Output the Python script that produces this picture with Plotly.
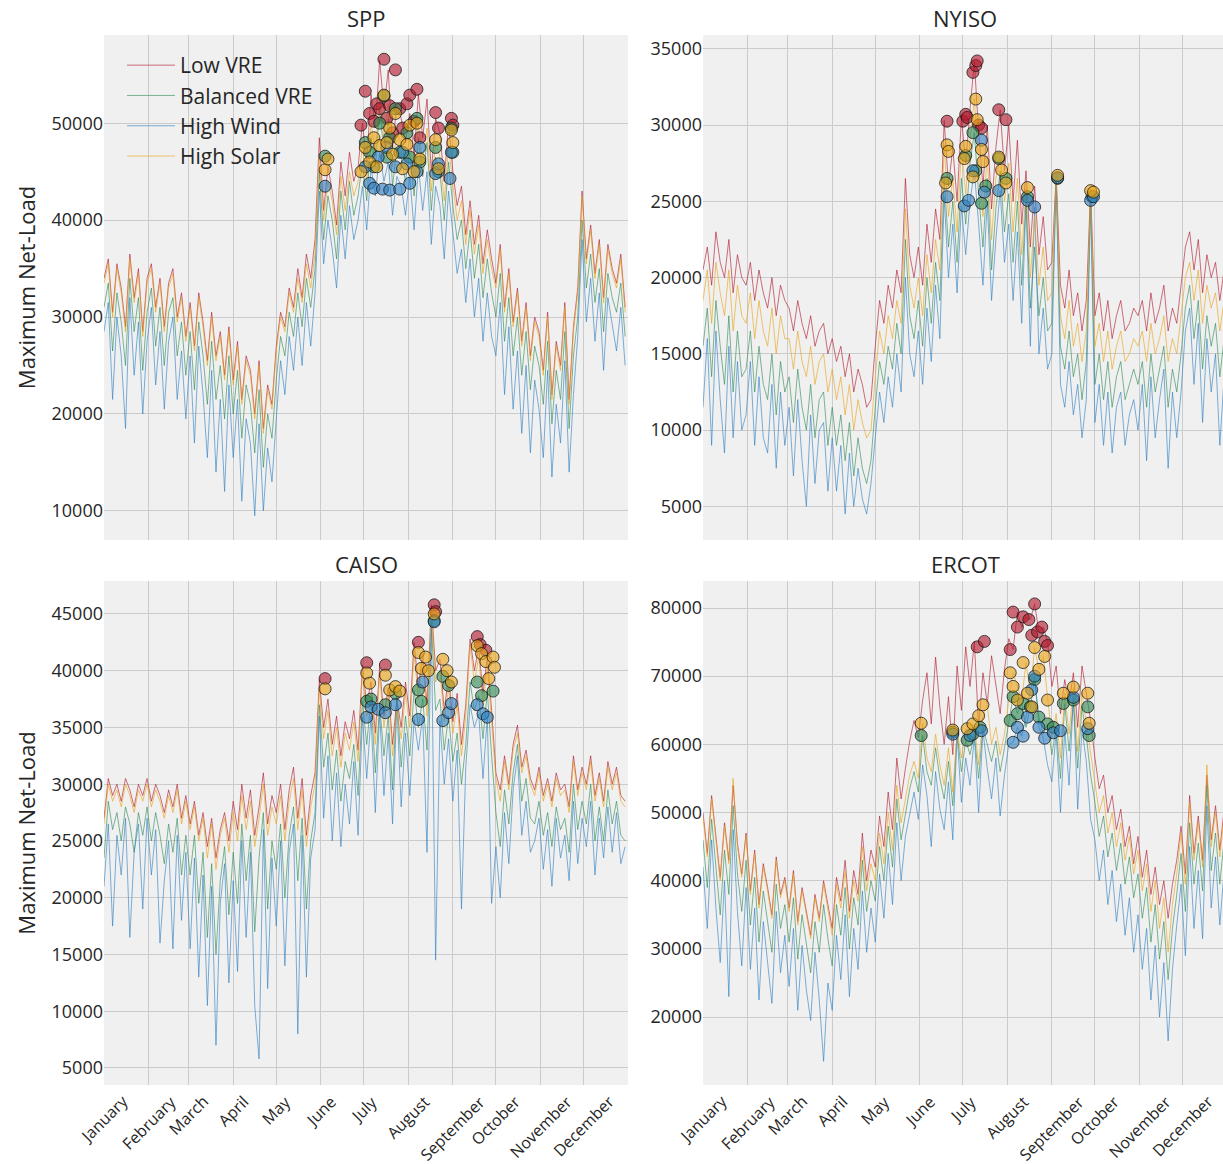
import plotly.graph_objects as go

MONTHS = ["January", "February", "March", "April", "May", "June", "July",
          "August", "September", "October", "November", "December"]
MONTH_START = [0, 31, 59, 90, 120, 151, 181, 212, 243, 273, 304, 334]
DAYS = list(range(0, 364, 3))  # sampled day-of-year positions (122)

SCENARIOS = ["Low VRE", "Balanced VRE", "High Wind", "High Solar"]
COLORS = ["#B2182B", "#2E8B57", "#2F7FC1", "#E8A317"]

# ---------------- SPP ----------------
spp_low = [
    34000, 36000, 30500, 35500, 33000, 29000, 36500, 32000, 35000, 28500, 34000,
    35500, 31000, 34000, 29000, 33500, 35000, 30000, 32500, 28000,
    31500, 27000, 32500, 29500, 25500, 30500, 26000, 28500, 24000, 29000,
    23500, 27500, 21500, 26000, 24500, 20000, 25500, 18500, 23000, 21000,
    27000, 30500, 29000, 33000, 31000, 35000, 32000, 36500, 34000, 38000,
    48500, 41000, 45500, 43000, 39500, 46000, 42500, 47000, 44000, 45500,
    50000, 46000, 53000, 49500, 56500, 51500, 55500, 47500, 52000, 50500, 48000,
    51000, 46500, 53000, 48500, 52500, 45000, 50500, 49000, 44000, 50000,
    45000, 41500, 43500, 38500, 42000, 37500, 40500, 35500, 39000, 36000,
    33500, 37500, 31000, 35000, 29500, 33000, 27500, 31500, 26000, 30000,
    28500, 24500, 30500, 22000, 27500, 25000, 31500, 21500, 29000, 33000,
    43000, 36000, 39500, 34500, 38000, 32000, 37500, 35000, 33500, 36500, 31000]
spp_bal = [
    31000, 33500, 26500, 32500, 29500, 25000, 34000, 28500, 32000, 24500, 30500,
    33000, 27000, 31000, 25000, 30500, 32000, 26000, 29500, 24000,
    28500, 22500, 29500, 26000, 21000, 27500, 21500, 25000, 19500, 26000,
    20000, 24500, 17500, 23000, 21000, 16000, 22500, 14500, 20000, 17500,
    23500, 28000, 26000, 30500, 28000, 32500, 29000, 34000, 31000, 35000,
    45000, 38000, 42500, 40000, 36000, 43000, 39000, 44000, 40500, 42500,
    46000, 42000, 48500, 45500, 51500, 47000, 50500, 43500, 47500, 46500, 44000,
    47000, 42500, 48500, 44500, 48000, 41000, 46500, 45000, 40000, 46000,
    41500, 38000, 40000, 35000, 39000, 34000, 37500, 32000, 36000, 32500,
    30000, 34500, 27500, 32000, 26000, 30000, 24000, 28500, 22500, 27000,
    25000, 21000, 27500, 19000, 24500, 21500, 28500, 18500, 26000, 30000,
    40000, 33000, 36500, 31500, 35000, 28500, 34500, 32000, 30500, 33500, 28000]
spp_wind = [
    28500, 31500, 21500, 30000, 26000, 18500, 32000, 24000, 29500, 20000, 27500,
    31000, 23000, 28500, 20500, 27500, 30000, 21500, 26500, 19500,
    26000, 17000, 27000, 22000, 15500, 24500, 14000, 21500, 12000, 23000,
    15500, 21500, 11000, 19500, 17000, 9500, 19000, 10000, 16500, 13000,
    19500, 25500, 22000, 28000, 24500, 30000, 25000, 31500, 27000, 32500,
    43000, 35500, 40000, 37000, 33000, 40500, 36000, 41500, 38000, 40000,
    43500, 39000, 45500, 42500, 47000, 44000, 46000, 40500, 44500, 43500, 40500,
    44500, 39000, 45500, 41000, 45000, 37500, 43500, 41500, 36000, 43000,
    38500, 34500, 37000, 31500, 36000, 30000, 34000, 27500, 32500, 28000,
    26000, 31500, 22000, 29000, 20500, 26500, 18000, 25000, 16000, 23500,
    20500, 15500, 24500, 13500, 21000, 17000, 25500, 14000, 22000, 28000,
    38000, 29500, 34000, 27500, 32500, 24500, 32000, 29000, 26500, 31000, 25000]
spp_solar = [
    33500, 35500, 30000, 35000, 32500, 28500, 36000, 31500, 34500, 28000, 33500,
    35000, 30500, 33500, 28500, 33000, 34500, 29500, 32000, 27500,
    31000, 26500, 32000, 29000, 25000, 30000, 25500, 28000, 23500, 28500,
    23000, 27000, 21000, 25500, 24000, 19500, 25000, 18000, 22500, 20500,
    26500, 30000, 28500, 32500, 30500, 34000, 31500, 35500, 33000, 36500,
    46500, 40000, 44000, 42000, 38500, 44500, 41000, 45000, 42500, 44000,
    47500, 44000, 50000, 47000, 52500, 48500, 52000, 45500, 49000, 48000, 45500,
    48500, 44500, 50000, 46000, 49500, 43000, 48000, 46500, 42000, 47500,
    43500, 40000, 42000, 37500, 41000, 36500, 39500, 34500, 38000, 35000,
    33000, 37000, 30500, 34500, 29000, 32500, 27000, 31000, 25500, 29500,
    28000, 24000, 30000, 21500, 27000, 24500, 31000, 21000, 28500, 32500,
    42500, 35500, 39000, 34000, 37500, 31500, 37000, 34500, 33000, 36000, 30500]

spp_low_pk_day = [179, 182, 185, 188, 190, 192, 195, 197, 199, 201, 203, 206, 208, 211, 213, 216, 218, 220, 231, 233, 242, 243]
spp_low_pk_val = [49800, 53300, 51000, 50200, 52000, 51500, 56600, 50500, 51800, 49000, 55500, 51500, 49500, 52000, 52900, 50200, 53500, 48500, 51100, 49500, 50500, 49800]
spp_bal_pk_day = [154, 182, 185, 188, 192, 195, 197, 199, 203, 206, 211, 213, 218, 220, 231, 233, 242, 243]
spp_bal_pk_val = [46600, 48000, 47000, 45500, 50000, 52800, 46500, 48500, 51500, 47000, 49000, 46500, 50500, 46000, 47500, 45000, 49500, 47000]
spp_wind_pk_day = [154, 182, 185, 188, 191, 194, 197, 199, 203, 206, 208, 211, 213, 218, 220, 231, 233, 241, 242]
spp_wind_pk_val = [43500, 45500, 43800, 43300, 46500, 43200, 47500, 43100, 45500, 43200, 47000, 45800, 43800, 45000, 47500, 44800, 45800, 44300, 47000]
spp_solar_pk_day = [154, 156, 179, 182, 185, 188, 190, 192, 195, 197, 199, 201, 203, 206, 208, 211, 213, 216, 218, 220, 231, 233, 242, 243]
spp_solar_pk_val = [45200, 46300, 45000, 47500, 46000, 48500, 45500, 47700, 52900, 48000, 49500, 46800, 51000, 48300, 45300, 47800, 49800, 45000, 50000, 46300, 48300, 45300, 49300, 48000]

# ---------------- NYISO ----------------
ny_low = [
    20500, 22000, 19500, 23000, 21000, 20000, 22500, 19000, 21500, 20000, 19500,
    21000, 18500, 20500, 19000, 18000, 20000, 17500, 19500, 18500,
    18000, 16500, 18500, 17000, 16000, 17500, 15500, 16500, 17000, 15000,
    16000, 14500, 15500, 13500, 15000, 12500, 14000, 13000, 11500, 12000,
    15500, 18500, 17000, 19500, 18000, 20500, 19000, 26500, 21500, 20000,
    22000, 19500, 23500, 21000, 24500, 22500, 30300, 26000, 28500, 25000,
    30500, 27500, 31000, 34200, 29500, 26000, 30000, 24500, 28500, 31000, 27000,
    30000, 25000, 29000, 23500, 27000, 22000, 26000, 21500, 24000, 20500,
    21000, 26700, 19500, 18000, 20500, 17500, 19000, 16500, 18500, 25800,
    17500, 19000, 16500, 18500, 16000, 17500, 18500, 16500, 17000, 18000,
    17500, 18500, 16500, 19000, 17000, 18000, 19500, 16500, 18000, 17000,
    19500, 22000, 23000, 20500, 22500, 19000, 21500, 20000, 21000, 18500, 20500]
ny_bal = [
    15500, 18000, 13500, 18500, 15500, 13000, 17500, 12500, 16500, 13500, 14000,
    16500, 12500, 15500, 13000, 12000, 15000, 11000, 14500, 12500,
    13500, 10500, 14000, 11500, 10000, 13000, 9500, 12000, 12500, 9000,
    11500, 9000, 11000, 8000, 10500, 7000, 9500, 7500, 6500, 8000,
    11500, 14500, 13000, 15500, 14000, 17000, 15000, 22500, 17500, 16000,
    18500, 15500, 20000, 17000, 21000, 18500, 26500, 22000, 25000, 21000,
    26500, 23500, 27500, 29500, 25500, 22000, 26500, 20500, 24500, 27000, 23000,
    25500, 21000, 25000, 19500, 25300, 18000, 22000, 17500, 20000, 16500,
    17000, 26500, 15500, 14000, 16500, 13500, 15000, 12000, 14500, 25300,
    13000, 15000, 12000, 14500, 11500, 13500, 14500, 12000, 13000, 14000,
    13000, 14500, 11500, 15000, 12500, 14000, 15500, 11500, 14000, 12500,
    15000, 18000, 19500, 16000, 18500, 14000, 17500, 15500, 17000, 13500, 16000]
ny_wind = [
    11500, 16000, 9000, 16500, 12000, 8500, 15500, 9500, 14500, 10000, 11000,
    14500, 9000, 13500, 9500, 8500, 13000, 7500, 12500, 9000,
    11500, 7000, 12000, 8000, 5000, 11000, 6500, 10000, 10500, 6000,
    9500, 6000, 9000, 4500, 8500, 5000, 7500, 5500, 4500, 6500,
    9500, 12500, 10500, 13500, 11500, 15000, 12500, 20000, 15000, 13500,
    16500, 13000, 18000, 14500, 19500, 16000, 25300, 20000, 23500, 19000,
    24700, 21500, 25000, 27000, 23500, 19500, 25000, 18500, 22500, 25700, 21000,
    23500, 18500, 23000, 17000, 25000, 15500, 24600, 15000, 18000, 14000,
    15000, 26500, 13000, 11500, 14500, 11000, 13000, 9500, 12000, 25000,
    10500, 13000, 9000, 12500, 8500, 11500, 12500, 9000, 11000, 12000,
    10000, 13000, 8000, 13500, 9500, 12000, 14000, 7500, 12500, 9500,
    12500, 16500, 18000, 13000, 17000, 10500, 16000, 12500, 15000, 9000, 13500]
ny_solar = [
    18500, 20500, 17000, 21000, 19000, 17500, 20500, 16500, 19500, 17500, 17000,
    19000, 16000, 18500, 16500, 15500, 18000, 15000, 17500, 16000,
    16000, 14000, 16500, 14500, 13500, 15500, 13000, 14500, 15000, 12500,
    14000, 12000, 13500, 11000, 13000, 10000, 12000, 10500, 9500, 10000,
    13500, 16500, 15000, 17500, 16000, 18500, 17000, 24500, 19500, 18000,
    20000, 17500, 21500, 19000, 22500, 20500, 28700, 24000, 26500, 23000,
    28500, 25500, 29000, 31700, 27500, 24000, 28000, 22500, 26500, 27900, 25000,
    27500, 23000, 26500, 21500, 25900, 20000, 24000, 19500, 22000, 18500,
    19000, 26700, 17500, 16000, 18500, 15500, 17000, 14500, 16500, 25700,
    15500, 17000, 14500, 16500, 14000, 15500, 16500, 14500, 15000, 16000,
    15500, 16500, 14500, 17000, 15000, 16000, 17500, 14500, 16000, 15000,
    17500, 20000, 21000, 18500, 20500, 17000, 19500, 18000, 19000, 16500, 18500]

ny_low_pk_day = [170, 181, 183, 184, 188, 190, 191, 192, 194, 206, 211]
ny_low_pk_val = [30250, 30250, 30700, 30500, 33450, 33900, 34200, 30000, 29800, 31000, 30350]
ny_bal_pk_day = [170, 183, 188, 190, 194, 197, 206, 211, 226, 247, 271]
ny_bal_pk_val = [26500, 28000, 29500, 27000, 24870, 26000, 27800, 26500, 25300, 26500, 25300]
ny_wind_pk_day = [170, 182, 185, 188, 194, 196, 206, 226, 231, 247, 270, 272]
ny_wind_pk_val = [25300, 24700, 25060, 27000, 29000, 25600, 25700, 25060, 24630, 26550, 25060, 25300]
ny_solar_pk_day = [169, 170, 171, 182, 183, 188, 190, 191, 194, 195, 206, 208, 211, 226, 247, 270, 272]
ny_solar_pk_val = [26200, 28700, 28270, 27800, 28600, 26600, 31700, 30350, 28400, 27600, 27900, 27050, 26200, 25900, 26700, 25700, 25600]

# ---------------- CAISO ----------------
ca_low = [
    27000, 30500, 29000, 30000, 28500, 30500, 29500, 28000, 30000, 29000, 30500,
    28500, 30000, 29000, 27500, 29500, 28000, 30000, 27000, 29000,
    26500, 28500, 25500, 27500, 24500, 27000, 23500, 26000, 27500, 25000,
    28500, 26000, 30000, 27000, 29500, 25500, 28000, 31000, 26500, 29000,
    27500, 30000, 26000, 29500, 31500, 27000, 30500, 25500, 29000, 31000,
    39200, 35000, 37500, 33500, 36000, 32500, 35500, 34000, 36500, 33000,
    40500, 37000, 39000, 34500, 40300, 36000, 38500, 33500, 37500, 35000, 39000,
    36000, 42500, 38500, 41500, 37000, 45800, 40000, 41000, 36500, 39500,
    35500, 38000, 33500, 37000, 42800, 40000, 42000, 38000, 41200, 36500,
    31000, 29500, 32500, 30000, 33500, 35200, 31500, 33000, 30500, 29500,
    31500, 29000, 30500, 28500, 31000, 29500, 30000, 28000, 32500, 29500,
    31500, 30000, 32500, 29000, 31000, 28500, 32000, 30000, 31500, 29000, 28500]
ca_bal = [
    23500, 28500, 26000, 27500, 25000, 28000, 26500, 24000, 27500, 25500, 28000,
    25000, 27500, 25500, 23000, 26500, 24000, 27000, 22000, 25500,
    22000, 25500, 19500, 24000, 16500, 23000, 15000, 21500, 24500, 18500,
    24000, 19500, 26500, 21500, 25500, 17000, 23500, 27500, 19000, 25000,
    22500, 26500, 20000, 25500, 28000, 21500, 27000, 19000, 25000, 27500,
    37000, 31500, 34500, 29500, 33000, 28500, 32000, 30500, 33500, 29000,
    37300, 33500, 37500, 31000, 37000, 32500, 36000, 29500, 38000, 31500, 36000,
    32500, 38300, 35000, 37500, 33000, 44400, 36500, 37500, 33000, 36000,
    32000, 34500, 30000, 33500, 39000, 36500, 37800, 34000, 38200, 32500,
    27500, 24500, 29500, 26500, 31000, 33500, 28500, 30500, 27000, 26500,
    28500, 25500, 27500, 24500, 28000, 26000, 27000, 24000, 30000, 26000,
    28500, 26500, 30000, 25000, 28000, 25000, 29500, 26500, 28500, 25500, 25000]
ca_wind = [
    21000, 26500, 17500, 25500, 22000, 27000, 16500, 24000, 26500, 19000, 27000,
    22000, 26000, 16000, 21500, 25000, 15500, 25500, 18000, 24000,
    15500, 23500, 13000, 22000, 10500, 21000, 7000, 19500, 23000, 12500,
    21500, 13500, 25000, 16500, 24000, 10500, 5800, 26000, 12000, 23500,
    17500, 25000, 14000, 24000, 26500, 8000, 25500, 13000, 23500, 26000,
    36000, 27000, 32500, 25000, 31000, 24500, 30000, 26500, 32000, 25500,
    35900, 30500, 36000, 27500, 36300, 29000, 34500, 26500, 37000, 28000, 34500,
    29000, 35700, 33000, 36000, 24000, 44300, 14500, 35600, 30000, 34000,
    28500, 33000, 19000, 31500, 37000, 35000, 36200, 30500, 36000, 19500,
    24500, 20000, 27500, 23000, 29500, 32500, 25500, 28500, 24000, 25000,
    27000, 22500, 26000, 21000, 27000, 23500, 25500, 21500, 28500, 23000,
    27000, 24500, 28500, 22000, 27000, 23500, 28000, 24000, 27500, 23000, 24500]
ca_solar = [
    26500, 30000, 28500, 29500, 28000, 30000, 29000, 27500, 29500, 28500, 30000,
    28000, 29500, 28500, 27000, 29000, 27500, 29500, 26500, 28500,
    26000, 28000, 25000, 27000, 23500, 26500, 22500, 25500, 27000, 24000,
    27500, 25000, 29000, 26000, 28500, 24500, 27000, 30000, 25500, 28000,
    26500, 29000, 25000, 28500, 30500, 26000, 29500, 24500, 28000, 30000,
    38400, 34000, 36500, 32500, 35000, 31500, 34500, 33000, 35500, 32000,
    39800, 36000, 38000, 33500, 39600, 35000, 38200, 32500, 36500, 34000, 38000,
    35000, 41600, 37500, 41000, 36000, 45000, 39000, 40000, 35500, 38500,
    34500, 37000, 32500, 36000, 42200, 39000, 41200, 37000, 40300, 35500,
    30500, 28500, 32000, 29500, 33000, 34500, 31000, 32500, 30000, 29000,
    31000, 28500, 30000, 28000, 30500, 29000, 29500, 27500, 32000, 29000,
    31000, 29500, 32000, 28500, 30500, 28000, 31500, 29500, 31000, 28500, 28000]

ca_low_pk_day = [154, 183, 196, 219, 230, 231, 260, 262, 266]
ca_low_pk_val = [39300, 40700, 40500, 42500, 45800, 45200, 43000, 42300, 41800]
ca_bal_pk_day = [183, 186, 196, 203, 219, 221, 230, 236, 240, 260, 263, 271]
ca_bal_pk_val = [37300, 37500, 37000, 38000, 38300, 37300, 44400, 39500, 38700, 39000, 37800, 38200]
ca_wind_pk_day = [183, 186, 191, 196, 203, 219, 222, 230, 236, 240, 242, 260, 264, 267]
ca_wind_pk_val = [35900, 36800, 36600, 36300, 37000, 35700, 39000, 44300, 35600, 36300, 37100, 37000, 36200, 35900]
ca_solar_pk_day = [154, 183, 185, 196, 199, 203, 206, 219, 221, 224, 226, 230, 236, 239, 242, 260, 263, 266, 268, 271, 272]
ca_solar_pk_val = [38400, 39800, 38900, 39600, 38300, 38600, 38200, 41600, 40200, 41200, 40000, 45000, 41000, 40000, 39000, 42200, 41500, 40800, 39300, 41200, 40300]

# ---------------- ERCOT ----------------
er_low = [
    50000, 44000, 52500, 46000, 40500, 48500, 43000, 54000, 45500, 41000, 47000,
    38500, 44500, 36500, 42500, 39000, 35000, 43500, 38000, 40500,
    36000, 41500, 34000, 39000, 35500, 32000, 38000, 34500, 40000, 36500,
    33000, 40500, 37000, 43000, 35500, 41500, 38000, 47000, 40000, 44500,
    42000, 49500, 45000, 53000, 47500, 58000, 52000, 56500, 60500, 63500,
    61000, 66500, 70500, 63000, 72800, 65500, 60000, 67000, 58500, 71500,
    65000, 74300, 68500, 75100, 62500, 70500, 66000, 73000, 69000, 64500, 71000,
    75500, 73900, 79400, 77200, 78700, 78300, 80600, 76500, 77200, 75100,
    68500, 71500, 64500, 69500, 66000, 70500, 62500, 71500, 67500, 63500,
    58000, 53500, 55500, 50000, 52500, 47500, 50500, 45000, 48000, 42500,
    46500, 40500, 44500, 38000, 42000, 36500, 40000, 34500, 39500, 43000,
    48000, 41000, 52500, 44000, 49500, 43000, 55500, 46000, 51000, 44500, 50500]
er_bal = [
    46000, 39000, 49000, 41500, 35000, 44500, 38000, 51000, 41000, 35500, 43000,
    33500, 40500, 31000, 38500, 34000, 29500, 39500, 33000, 36500,
    31000, 37500, 28500, 35000, 30500, 26500, 34000, 29500, 36500, 31500,
    27500, 36500, 32000, 39000, 30000, 37500, 33500, 43000, 35500, 40000,
    37000, 45000, 40000, 48000, 42000, 52000, 46000, 50000, 53500, 56000,
    53000, 61300, 56000, 54000, 59500, 55000, 52000, 57500, 51000, 61800,
    56000, 60600, 58500, 61500, 55000, 62500, 60000, 57500, 60500, 56000, 59500,
    63500, 67000, 64500, 66000, 62500, 65500, 69500, 64000, 61500, 63000,
    58500, 62500, 55000, 66000, 59000, 66500, 56500, 65500, 61300, 55500,
    51500, 46500, 49500, 43500, 47000, 41500, 45500, 39500, 43500, 37500,
    41000, 34500, 39000, 31000, 36500, 28500, 34000, 25500, 33000, 38000,
    44000, 35500, 48500, 39500, 45500, 38500, 54000, 41500, 47000, 39500, 46000]
er_wind = [
    42000, 33000, 46000, 36000, 28000, 40000, 23000, 47500, 35500, 27500, 39000,
    27000, 36000, 22500, 34000, 28000, 22000, 35500, 26500, 32000,
    24500, 33000, 21000, 30500, 24000, 19500, 29500, 22500, 13500, 25000,
    21000, 32000, 25500, 35000, 23000, 33000, 27000, 38500, 29500, 36000,
    31000, 41000, 34500, 44000, 36500, 48500, 40000, 46500, 50000, 53000,
    49000, 57000, 52500, 45000, 56000, 50500, 47500, 54500, 46000, 61500,
    51500, 58000, 54000, 61300, 50000, 62000, 56500, 52000, 58000, 49500, 55500,
    60000, 60300, 62500, 61200, 64000, 68000, 70000, 62500, 60900, 57000,
    54500, 61700, 50000, 62000, 54000, 66900, 50500, 62300, 57500, 49000,
    46000, 40000, 44500, 36500, 41500, 34000, 39500, 32000, 37500, 29500,
    35000, 27000, 33000, 22500, 30500, 20000, 28000, 16500, 27000, 33500,
    39500, 29000, 45000, 33000, 41500, 31500, 51000, 36000, 43500, 33500, 41500]
er_solar = [
    49500, 43500, 52000, 45500, 40000, 48000, 42500, 55000, 45000, 40500, 46500,
    38000, 44000, 36000, 42000, 38500, 34500, 43000, 37500, 40000,
    35500, 41000, 33500, 38500, 35000, 31500, 37500, 34000, 39500, 36000,
    32000, 39500, 36000, 41500, 34500, 40000, 37000, 45000, 38500, 42500,
    40000, 47000, 42500, 50000, 44500, 54000, 48500, 52000, 55500, 57500,
    55000, 63100, 58000, 56000, 61500, 57000, 54000, 59500, 53000, 62100,
    58000, 62300, 60500, 63000, 57000, 64200, 65800, 60000, 62500, 58500, 61500,
    66500, 70500, 68500, 66500, 72000, 67500, 74200, 71000, 72900, 66500,
    61000, 64500, 58000, 67500, 61500, 68400, 59000, 67500, 63100, 58500,
    54500, 50000, 52500, 47000, 50000, 45000, 48500, 43000, 46500, 41000,
    44500, 38500, 42500, 35500, 40000, 33000, 37500, 29500, 36500, 41000,
    47000, 39500, 51500, 43000, 48500, 42000, 57000, 45000, 50000, 43500, 49500]

er_low_pk_day = [191, 196, 214, 216, 219, 223, 227, 229, 231, 233, 236, 238, 240]
er_low_pk_val = [74300, 75100, 73900, 79400, 77200, 78700, 78300, 76000, 80600, 76500, 77200, 75100, 74500]
er_bal_pk_day = [152, 174, 184, 188, 193, 214, 216, 219, 223, 228, 231, 234, 240, 244, 251, 258, 268, 269]
er_bal_pk_val = [61300, 61800, 60600, 61500, 62500, 63500, 67000, 64500, 66000, 65500, 69500, 64000, 63000, 62500, 66000, 66500, 65500, 61300]
er_wind_pk_day = [174, 186, 194, 216, 219, 223, 226, 229, 231, 234, 238, 244, 249, 258, 268]
er_wind_pk_val = [61500, 61300, 62000, 60300, 62500, 61200, 64000, 68000, 70000, 62500, 60900, 61700, 62000, 66900, 62300]
er_solar_pk_day = [152, 174, 184, 188, 192, 195, 214, 216, 219, 223, 226, 229, 231, 234, 238, 240, 251, 258, 268, 269]
er_solar_pk_val = [63100, 62100, 62300, 63000, 64200, 65800, 70500, 68500, 66500, 72000, 67500, 65500, 74200, 71000, 72900, 66500, 67500, 68400, 67500, 63100]

# ---------------- layout geometry ----------------
W, H = 1223, 1164
PX_PER_DAY = 524 / 365.0
FONT = "Open Sans, Noto Sans, DejaVu Sans, sans-serif"
TXT = "#262626"
GRID = "#CBCBCB"
BG = "#F0F0F0"


def rgba(hexc, a):
    h = hexc.lstrip("#")
    return "rgba(%d,%d,%d,%.2f)" % (int(h[0:2], 16), int(h[2:4], 16), int(h[4:6], 16), a)


panels = [
    dict(title="SPP", lines=[spp_low, spp_bal, spp_wind, spp_solar],
         peaks=[(spp_low_pk_day, spp_low_pk_val), (spp_bal_pk_day, spp_bal_pk_val),
                (spp_wind_pk_day, spp_wind_pk_val), (spp_solar_pk_day, spp_solar_pk_val)],
         px_x=(104, 628), px_y=(35, 540), yr=(7000, 59100), dtick=10000, left=True, bottom=False),
    dict(title="NYISO", lines=[ny_low, ny_bal, ny_wind, ny_solar],
         peaks=[(ny_low_pk_day, ny_low_pk_val), (ny_bal_pk_day, ny_bal_pk_val),
                (ny_wind_pk_day, ny_wind_pk_val), (ny_solar_pk_day, ny_solar_pk_val)],
         px_x=(703, 1223), px_y=(35, 540), yr=(2800, 35900), dtick=5000, left=False, bottom=False),
    dict(title="CAISO", lines=[ca_low, ca_bal, ca_wind, ca_solar],
         peaks=[(ca_low_pk_day, ca_low_pk_val), (ca_bal_pk_day, ca_bal_pk_val),
                (ca_wind_pk_day, ca_wind_pk_val), (ca_solar_pk_day, ca_solar_pk_val)],
         px_x=(104, 628), px_y=(581, 1085), yr=(3500, 47900), dtick=5000, left=True, bottom=True),
    dict(title="ERCOT", lines=[er_low, er_bal, er_wind, er_solar],
         peaks=[(er_low_pk_day, er_low_pk_val), (er_bal_pk_day, er_bal_pk_val),
                (er_wind_pk_day, er_wind_pk_val), (er_solar_pk_day, er_solar_pk_val)],
         px_x=(703, 1223), px_y=(581, 1085), yr=(10040, 83960), dtick=10000, left=False, bottom=True),
]

fig = go.Figure()
layout = dict(
    width=W, height=H, autosize=False,
    margin=dict(l=0, r=0, t=0, b=0),
    paper_bgcolor="white", plot_bgcolor=BG,
    font=dict(family=FONT, color=TXT),
    showlegend=True,
    legend=dict(x=122 / W, y=1 - 45 / H, xanchor="left", yanchor="top",
                bgcolor="rgba(0,0,0,0)", borderwidth=0,
                font=dict(size=21, color=TXT, family=FONT),
                tracegroupgap=0, itemwidth=48),
)
annotations = []

for i, p in enumerate(panels, start=1):
    xa = "x" if i == 1 else "x%d" % i
    ya = "y" if i == 1 else "y%d" % i
    x0, x1 = p["px_x"]
    y0, y1 = p["px_y"]
    span_days = (x1 - x0) / PX_PER_DAY
    layout["xaxis" if i == 1 else "xaxis%d" % i] = dict(
        domain=[x0 / W, x1 / W], anchor=ya, range=[0, span_days],
        tickvals=MONTH_START, showticklabels=False, ticks="",
        showgrid=True, gridcolor=GRID, gridwidth=1, zeroline=False, showline=False,
    )
    yax = dict(
        domain=[1 - y1 / H, 1 - y0 / H], anchor=xa, range=list(p["yr"]),
        tick0=0, dtick=p["dtick"], tickformat="d", ticks="",
        tickfont=dict(size=18, color=TXT, family=FONT),
        showgrid=True, gridcolor=GRID, gridwidth=1, zeroline=False, showline=False,
    )
    if p["left"]:
        yax["title"] = dict(text="Maximum Net-Load", font=dict(size=22, color=TXT, family=FONT), standoff=9)
    layout["yaxis" if i == 1 else "yaxis%d" % i] = yax

    for k, vals in enumerate(p["lines"]):
        fig.add_trace(go.Scatter(
            x=DAYS[:len(vals)], y=vals, mode="lines", name=SCENARIOS[k],
            line=dict(color=rgba(COLORS[k], 0.62), width=1),
            xaxis=xa, yaxis=ya, showlegend=(i == 1), legendgroup=SCENARIOS[k],
            hoverinfo="skip",
        ))
    for k, (d, v) in enumerate(p["peaks"]):
        n = min(len(d), len(v))
        fig.add_trace(go.Scatter(
            x=d[:n], y=v[:n], mode="markers", name=SCENARIOS[k] + " peaks",
            marker=dict(size=12, color=rgba(COLORS[k], 0.62),
                        line=dict(color="rgba(20,20,20,0.75)", width=1)),
            xaxis=xa, yaxis=ya, showlegend=False, legendgroup=SCENARIOS[k],
            hoverinfo="skip",
        ))

    # panel title
    annotations.append(dict(
        text=p["title"], xref="paper", yref="paper",
        x=((x0 + (x0 + 524)) / 2) / W, y=1 - (y0 - 17) / H,
        xanchor="center", yanchor="middle", showarrow=False,
        font=dict(size=22, color=TXT, family=FONT),
    ))
    # month labels (rotated, centred on the month tick like the reference)
    if p["bottom"]:
        for m, d in zip(MONTHS, MONTH_START):
            annotations.append(dict(
                text=m, xref=xa, yref="paper", x=d, y=1 - (y1 + 3) / H,
                xanchor="center", yanchor="top", textangle=-45, showarrow=False,
                font=dict(size=16, color=TXT, family=FONT),
            ))

layout["annotations"] = annotations
fig.update_layout(**layout)
fig.write_html("out.html")
